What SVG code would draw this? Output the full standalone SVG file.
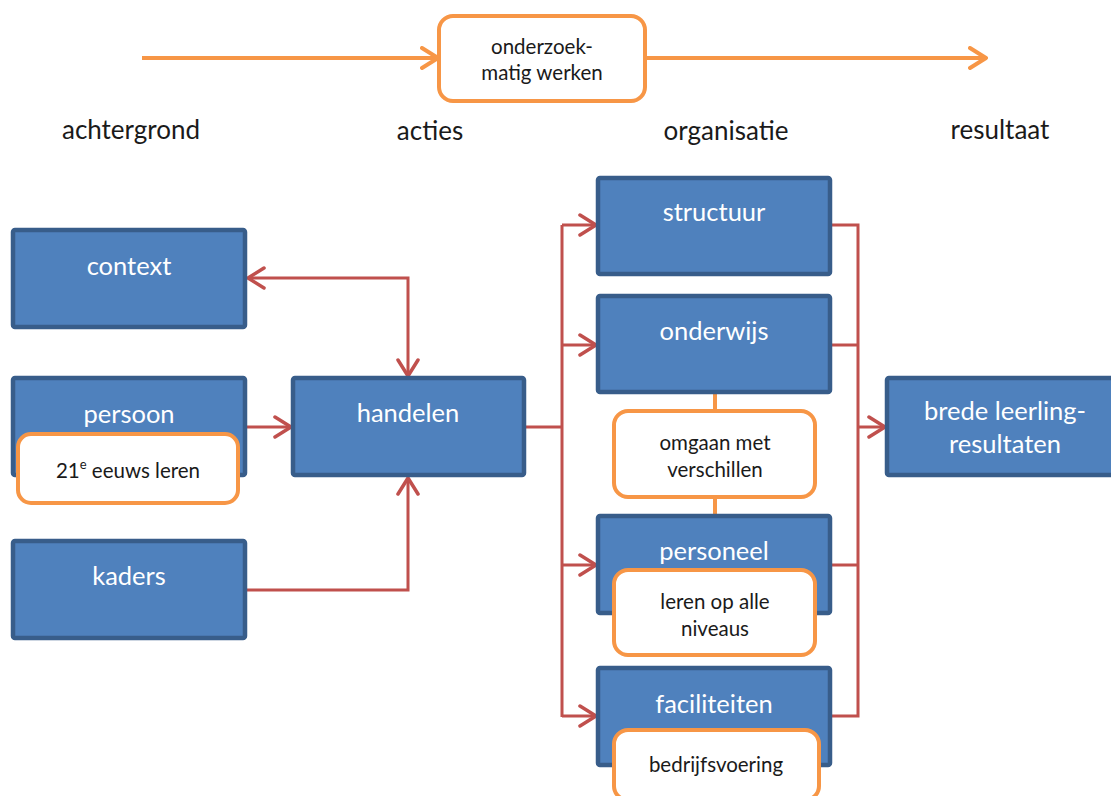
<svg xmlns="http://www.w3.org/2000/svg" width="1111" height="796" viewBox="0 0 1111 796">
<style>
.blue{fill:#4F81BD;stroke:#385D8A;stroke-width:4.5}
.orange{fill:#FFFFFF;stroke:#F79646;stroke-width:4}
.wt{fill:#FFFFFF;font-family:Lato,"Liberation Sans",sans-serif;font-size:25.5px;text-anchor:middle}
.dt{fill:#1A1A1A;font-family:Lato,"Liberation Sans",sans-serif;font-size:20.5px;text-anchor:middle}
.lt{fill:#1A1A1A;font-family:Lato,"Liberation Sans",sans-serif;font-size:26px;text-anchor:middle}
.red{fill:none;stroke:#C0504D;stroke-width:3}
.org{fill:none;stroke:#F79646;stroke-width:4}
</style>
<defs>
<marker id="ar" markerUnits="userSpaceOnUse" viewBox="0 0 20 24" refX="18" refY="12" markerWidth="20" markerHeight="24" orient="auto-start-reverse">
<path d="M2,2 L18,12 L2,22" fill="none" stroke="#C0504D" stroke-width="3.5" stroke-linecap="round" stroke-linejoin="round"/>
</marker>
<marker id="ao" markerUnits="userSpaceOnUse" viewBox="0 0 20 24" refX="18" refY="12" markerWidth="20" markerHeight="24" orient="auto">
<path d="M2,2 L18,12 L2,22" fill="none" stroke="#F79646" stroke-width="4" stroke-linecap="round" stroke-linejoin="round"/>
</marker>
</defs>

<g id="labels">
<text class="lt" x="131" y="139">achtergrond</text>
<text class="lt" x="430" y="140">acties</text>
<text class="lt" x="726" y="140">organisatie</text>
<text class="lt" x="1000" y="139">resultaat</text>
</g>

<g id="connectors">
<line class="org" x1="142" y1="58" x2="438" y2="58" marker-end="url(#ao)"/>
<line class="org" x1="646" y1="58" x2="986" y2="58" marker-end="url(#ao)"/>
<polyline class="red" points="248,278 408,278 408,376" marker-start="url(#ar)" marker-end="url(#ar)"/>
<line class="red" x1="246" y1="427" x2="291" y2="427" marker-end="url(#ar)"/>
<polyline class="red" points="246,590 408,590 408,478" marker-end="url(#ar)"/>
<line class="red" x1="525" y1="427" x2="562" y2="427"/>
<line class="red" x1="562" y1="225" x2="562" y2="717"/>
<line class="red" x1="562" y1="225" x2="596" y2="225" marker-end="url(#ar)"/>
<line class="red" x1="562" y1="345" x2="596" y2="345" marker-end="url(#ar)"/>
<line class="red" x1="562" y1="565" x2="596" y2="565" marker-end="url(#ar)"/>
<line class="red" x1="562" y1="716" x2="596" y2="716" marker-end="url(#ar)"/>
<polyline class="red" points="831,225 858,225 858,716 831,716"/>
<line class="red" x1="831" y1="345" x2="858" y2="345"/>
<line class="red" x1="831" y1="565" x2="858" y2="565"/>
<line class="red" x1="858" y1="427" x2="885" y2="427" marker-end="url(#ar)"/>
<line class="org" x1="715" y1="368" x2="715" y2="410"/>
<line class="org" x1="715" y1="498" x2="715" y2="542"/>
</g>

<g id="onderzoek">
<rect class="orange" x="439" y="16" width="206" height="85" rx="14"/>
<text class="dt" x="542" y="54">onderzoek-</text>
<text class="dt" x="542" y="80">matig werken</text>
</g>

<g id="context">
<rect class="blue" x="13" y="230" width="232" height="97" rx="2"/>
<text class="wt" x="129" y="275">context</text>
</g>

<g id="persoon">
<rect class="blue" x="13" y="378" width="232" height="97" rx="2"/>
<text class="wt" x="129" y="423">persoon</text>
</g>
<g id="eeuws">
<rect class="orange" x="18" y="434" width="220" height="69" rx="13"/>
<text class="dt" x="128" y="478">21<tspan font-size="13" dy="-9">e</tspan><tspan dy="9"> eeuws leren</tspan></text>
</g>

<g id="kaders">
<rect class="blue" x="13" y="541" width="232" height="97" rx="2"/>
<text class="wt" x="129" y="585">kaders</text>
</g>

<g id="handelen">
<rect class="blue" x="293" y="378" width="231" height="97" rx="2"/>
<text class="wt" x="408" y="422">handelen</text>
</g>

<g id="structuur">
<rect class="blue" x="598" y="178" width="232" height="96" rx="2"/>
<text class="wt" x="714" y="221">structuur</text>
</g>

<g id="onderwijs">
<rect class="blue" x="598" y="296" width="232" height="96" rx="2"/>
<text class="wt" x="714" y="340">onderwijs</text>
</g>

<g id="omgaan">
<rect class="orange" x="614" y="411" width="201" height="86" rx="14"/>
<text class="dt" x="715" y="450">omgaan met</text>
<text class="dt" x="715" y="477">verschillen</text>
</g>

<g id="personeel">
<rect class="blue" x="598" y="516" width="232" height="97" rx="2"/>
<text class="wt" x="714" y="560">personeel</text>
</g>

<g id="leren">
<rect class="orange" x="614" y="570" width="201" height="85" rx="14"/>
<text class="dt" x="715" y="609">leren op alle</text>
<text class="dt" x="715" y="636">niveaus</text>
</g>

<g id="faciliteiten">
<rect class="blue" x="598" y="668" width="232" height="97" rx="2"/>
<text class="wt" x="714" y="713">faciliteiten</text>
</g>

<g id="bedrijfsvoering">
<rect class="orange" x="614" y="730" width="205" height="70" rx="14"/>
<text class="dt" x="716" y="772">bedrijfsvoering</text>
</g>

<g id="brede">
<rect class="blue" x="887" y="378" width="232" height="97" rx="2"/>
<text class="wt" x="1005" y="420">brede leerling-</text>
<text class="wt" x="1005" y="453">resultaten</text>
</g>
</svg>
